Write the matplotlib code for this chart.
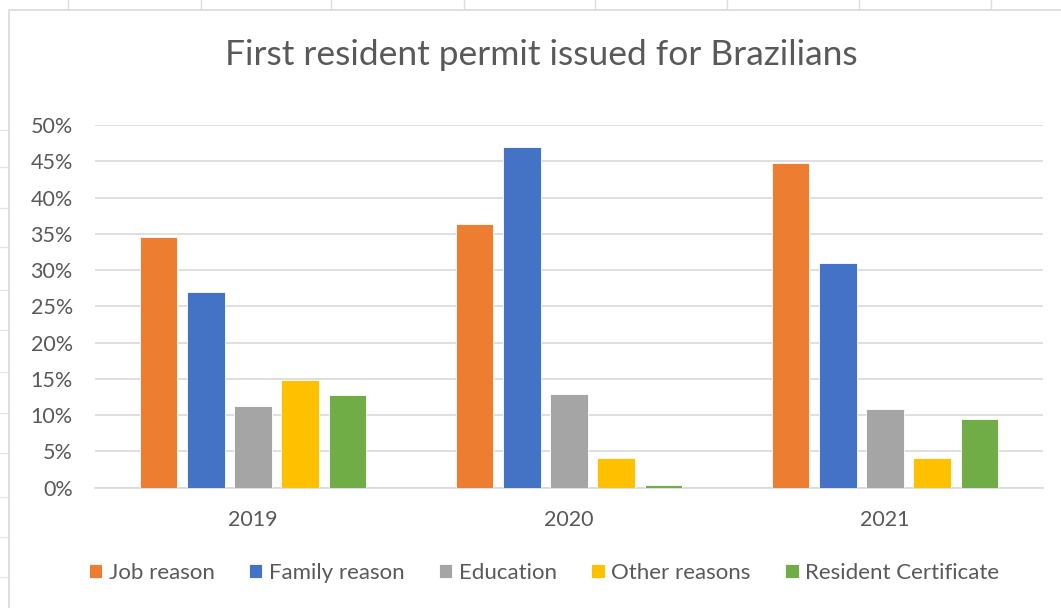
import numpy as np
import matplotlib
matplotlib.use("Agg")
import matplotlib.pyplot as plt
from matplotlib.patches import Rectangle
from matplotlib.lines import Line2D
import matplotlib.ticker as ticker

# data (share of first permits)
years = ["2019", "2020", "2021"]
reasons = ["Job reason", "Family reason", "Education", "Other reasons", "Resident Certificate"]
job = [0.345, 0.364, 0.447]
family = [0.270, 0.469, 0.310]
education = [0.112, 0.129, 0.109]
other = [0.149, 0.041, 0.041]
resident = [0.128, 0.004, 0.095]
yticks = [0, 0.05, 0.10, 0.15, 0.20, 0.25, 0.30, 0.35, 0.40, 0.45, 0.50]

series = [job, family, education, other, resident]
colors = ["#ED7D31", "#4472C4", "#A5A5A5", "#FFC000", "#70AD47"]

matplotlib.rcParams['font.family'] = ['Lato', 'DejaVu Sans']
W, H = 1061, 608
fig = plt.figure(figsize=(W / 100, H / 100), dpi=100)
fig.patch.set_facecolor('white')

# spreadsheet background bits around the chart object
for xc in [68, 201, 331, 464, 595, 727, 859, 991]:
    fig.add_artist(Line2D([xc / W, xc / W], [1 - 10 / H, 1.0], transform=fig.transFigure,
                          color='#dcdcdc', lw=1, zorder=-2))
for yr in [130, 167, 208, 247, 290, 330, 372, 413, 453, 497, 537, 577]:
    fig.add_artist(Line2D([0, 9 / W], [1 - yr / H, 1 - yr / H], transform=fig.transFigure,
                          color='#e6e6e6', lw=1, zorder=-2))
fig.add_artist(Rectangle((9 / W, -0.05), 1.2, 1 - 10 / H + 0.05, transform=fig.transFigure,
                         facecolor='white', edgecolor='#d9d9d9', lw=1.2, zorder=-1))

ax = fig.add_axes([95 / W, 1 - 487.7 / H, (1043 - 95) / W, (487.7 - 125) / H])
ax.patch.set_alpha(0)
x = np.arange(len(years))
step = 0.149
width = 0.118
for i, (vals, c, name) in enumerate(zip(series, colors, reasons)):
    ax.bar(x + (i - 2) * step, vals, width=width, color=c, edgecolor='white',
           linewidth=0.6, label=name, zorder=3)

ax.set_xlim(-0.5, 2.5)
ax.set_ylim(0, 0.5)
ax.set_yticks(yticks)
ax.yaxis.set_major_formatter(ticker.PercentFormatter(1.0, decimals=0))
ax.set_xticks(x)
ax.set_xticklabels(years)
ax.grid(axis='y', color='#d9d9d9', lw=1.2, zorder=0)
ax.set_axisbelow(True)
for s in ['top', 'right', 'left']:
    ax.spines[s].set_visible(False)
ax.spines['bottom'].set_color('#d9d9d9')
ax.spines['bottom'].set_linewidth(1.2)
ax.tick_params(axis='y', length=0, pad=16, labelsize=15.5, labelcolor='#595959')
ax.tick_params(axis='x', length=0, pad=16, labelsize=15.5, labelcolor='#595959')

fig.text(541 / W, 1 - 55 / H, "First resident permit issued for Brazilians",
         ha='center', va='center', fontsize=25.5, color='#595959')

leg = fig.legend(loc='center', bbox_to_anchor=(544 / W, 1 - 573 / H), ncol=5,
                 frameon=False, fontsize=16, handlelength=0.6, handleheight=0.6,
                 handletextpad=0.3, columnspacing=1.55, labelcolor='#595959')

fig.savefig('out.png', dpi=100)
